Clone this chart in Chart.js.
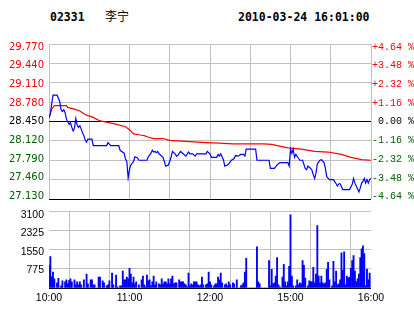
<!DOCTYPE html>
<html>
<head>
<meta charset="utf-8">
<script src="https://cdn.jsdelivr.net/npm/chart.js@4.4.0/dist/chart.umd.min.js"></script>
<style>
html, body { margin: 0; padding: 0; background: #fff; }
body { width: 414px; height: 314px; position: relative; overflow: hidden; }
.hd { position: absolute; top: 9px; font: bold 11.5px "DejaVu Sans Mono", monospace; line-height: 16px; color: #000; white-space: pre; }
#code { left: 50px; }
#name { left: 105px; top: 7px; font: 12px "Noto Sans CJK SC", sans-serif; }
#time { left: 238px; }
#priceBox { position: absolute; left: 0; top: 30px; }
#volBox { position: absolute; left: 0; top: 200px; }
</style>
</head>
<body>
<div class="hd" id="code">02331</div>
<div class="hd" id="name">李宁</div>
<div class="hd" id="time">2010-03-24 16:01:00</div>
<div id="priceBox"><canvas id="priceChart" width="414" height="180"></canvas></div>
<div id="volBox"><canvas id="volChart" width="414" height="114"></canvas></div>
<script>
// datos del grafico (minutos desde las 10:00, sesion de 240 min)
const prevClose = 28.45;
const priceTicks = [27.13, 27.46, 27.79, 28.12, 28.45, 28.78, 29.11, 29.44, 29.77];
const volTicks = [0, 775, 1550, 2325, 3100];
const gridMinutes = [0, 30, 60, 90, 120, 150, 180, 210, 240];
const timeLabels = ['10:00', '', '11:00', '', '12:00', '', '15:00', '', '16:00'];

const priceMinutes = [0,1,2,3,6,8,9,10,11,12,13,15,16,17,18,19,20,21,22,23,24,25,26,27,28,29,32,33,43,44,46,52,53,56,57,58,59,60,61,63,64,66,67,73,74,76,77,78,79,80,81,82,85,87,89,91,92,94,95,96,98,100,102,104,105,107,109,110,117,118,120,121,125,126,127,128,130,131,133,134,136,138,139,141,143,145,146,147,154,155,164,165,168,170,172,178,179,180,181,182,183,184,186,187,189,191,192,193,195,196,197,198,199,200,202,203,205,206,207,209,212,214,215,216,217,218,219,224,226,227,228,229,230,231,232,233,234,235,236,237,238,239,240];
const prices = [28.52,28.58,28.75,28.90,28.90,28.79,28.65,28.62,28.65,28.60,28.49,28.40,28.43,28.35,28.29,28.34,28.50,28.39,28.35,28.38,28.32,28.26,28.21,28.13,28.10,28.15,28.15,28.04,28.04,28.09,28.04,28.04,27.96,27.91,27.81,27.77,27.49,27.63,27.71,27.77,27.85,27.83,27.79,27.79,27.85,27.91,27.96,27.93,27.94,27.92,27.94,27.90,27.84,27.69,27.71,27.84,27.94,27.90,27.86,27.87,27.94,27.90,27.86,27.93,27.90,27.90,27.86,27.90,27.90,27.94,27.90,27.84,27.84,27.89,27.86,27.90,27.80,27.69,27.71,27.73,27.79,27.82,27.87,27.86,27.89,27.89,27.86,27.98,27.98,27.79,27.79,27.65,27.65,27.71,27.75,27.75,27.69,27.98,27.91,27.98,27.84,27.89,27.82,27.79,27.79,27.65,27.63,27.69,27.65,27.62,27.54,27.48,27.57,27.73,27.79,27.80,27.75,27.65,27.51,27.46,27.46,27.39,27.35,27.39,27.39,27.34,27.29,27.29,27.38,27.48,27.40,27.35,27.30,27.25,27.32,27.40,27.43,27.48,27.40,27.46,27.40,27.46,27.48];

const avgMinutes = [0,2,4,13,14,19,23,27,29,33,38,43,49,57,60,63,68,71,73,78,85,90,102,117,127,137,160,166,178,188,198,208,218,225,233,240];
const avgPrices = [28.51,28.66,28.72,28.72,28.69,28.66,28.63,28.57,28.55,28.52,28.46,28.44,28.41,28.36,28.31,28.24,28.22,28.21,28.19,28.16,28.16,28.13,28.11,28.09,28.08,28.07,28.07,28.06,28.00,27.98,27.94,27.93,27.89,27.84,27.80,27.79];

const volumes = [
  916,1268,458,641,366,0,209,392,0,92,
  288,0,248,327,170,301,366,248,0,327,
  131,248,131,248,131,0,327,0,562,170,
  0,327,327,131,131,0,0,445,445,0,
  288,209,0,92,131,288,0,602,131,0,
  523,52,0,92,92,680,327,327,445,366,
  798,562,209,445,170,248,0,131,0,327,
  484,131,52,523,288,327,92,248,484,131,
  248,0,170,131,366,170,248,248,170,366,
  170,366,484,170,209,209,0,327,248,248,
  248,170,131,52,602,92,170,131,248,248,
  248,131,92,131,445,131,0,131,170,641,
  248,131,0,92,170,170,445,327,602,209,
  0,131,170,92,248,131,0,209,170,0,
  327,0,0,92,131,209,641,1203,0,0,
  0,0,0,0,0,1661,248,170,0,0,
  0,0,0,0,1112,92,759,170,209,484,
  1230,131,52,0,445,955,248,92,248,876,
  2956,484,92,0,92,327,131,209,170,1112,
  916,405,0,92,288,248,248,837,209,562,
  2524,484,209,484,209,170,209,759,1033,327,
  0,92,1073,248,680,131,170,327,1426,719,
  1465,131,484,405,445,798,1112,1308,680,248,
  366,562,1230,1583,1700,1387,92,759,327,602,
  0
];

const RED = '#ff0000';
const GREEN = '#006000';
const GRID = '#c0c0c0';

function near(a, b) { return Math.abs(a - b) < 1e-6; }
function tickColor(ctx) {
    const v = ctx.tick.value;
    if (near(v, prevClose)) return '#000';
    return v > prevClose ? RED : GREEN;
}
function pctLabel(v) {
    const p = (v - prevClose) / prevClose * 100;
    if (Math.abs(p) < 0.005) return ' 0.00 %';
    return (p > 0 ? '+' : '-') + Math.abs(p).toFixed(2) + ' %';
}

// panel de precios
new Chart(document.getElementById('priceChart'), {
    type: 'line',
    data: {
        datasets: [
            {
                data: priceMinutes.map((m, i) => ({ x: m, y: prices[i] })),
                borderColor: '#0000ff',
                borderWidth: 1.2,
                pointRadius: 0,
                tension: 0
            },
            {
                data: avgMinutes.map((m, i) => ({ x: m, y: avgPrices[i] })),
                borderColor: RED,
                borderWidth: 1.2,
                pointRadius: 0,
                tension: 0
            }
        ]
    },
    options: {
        responsive: false,
        animation: false,
        events: [],
        layout: { padding: { top: 14, bottom: 7, left: 0, right: 0 } },
        plugins: { legend: { display: false }, tooltip: { enabled: false } },
        scales: {
            x: {
                type: 'linear', min: 0, max: 240,
                afterBuildTicks: s => { s.ticks = gridMinutes.map(v => ({ value: v })); },
                afterFit: s => { s.height = 0; },
                ticks: { display: false },
                grid: { color: GRID, drawTicks: false },
                border: { display: false }
            },
            y: {
                min: 27.13, max: 29.77,
                afterBuildTicks: s => { s.ticks = priceTicks.map(v => ({ value: v })); },
                afterFit: s => { s.width = 0; },
                ticks: { display: false },
                grid: {
                    drawTicks: false,
                    color: ctx => (near(ctx.tick.value, prevClose) || near(ctx.tick.value, 27.13)) ? '#000' : GRID
                },
                border: { display: false }
            },
            // ejes solo de etiquetas (las etiquetas van un poco desplazadas de la rejilla)
            yl: {
                position: 'left',
                min: 27.087, max: 29.822,
                afterBuildTicks: s => { s.ticks = priceTicks.map(v => ({ value: v })); },
                afterFit: s => { s.width = 49; },
                grid: { display: false, drawTicks: false },
                border: { display: false },
                ticks: {
                    padding: 5,
                    font: { family: 'DejaVu Sans', size: 10 },
                    color: tickColor,
                    callback: v => v.toFixed(3)
                }
            },
            yr: {
                position: 'right',
                min: 27.087, max: 29.822,
                afterBuildTicks: s => { s.ticks = priceTicks.map(v => ({ value: v })); },
                afterFit: s => { s.width = 43; },
                grid: { display: false, drawTicks: false },
                border: { display: false },
                ticks: {
                    padding: 1,
                    font: { family: 'Liberation Mono', size: 10 },
                    color: tickColor,
                    callback: v => pctLabel(v)
                }
            }
        }
    }
});

// panel de volumen
new Chart(document.getElementById('volChart'), {
    type: 'bar',
    data: {
        datasets: [{
            data: volumes.map((v, i) => ({ x: i, y: v })),
            backgroundColor: '#0000ff',
            barThickness: 1.2
        }]
    },
    options: {
        responsive: false,
        animation: false,
        events: [],
        layout: { padding: { top: 9, right: 43, left: 0, bottom: 0 } },
        plugins: { legend: { display: false }, tooltip: { enabled: false } },
        scales: {
            x: {
                type: 'linear', min: 0, max: 240, offset: false,
                afterBuildTicks: s => { s.ticks = gridMinutes.map(v => ({ value: v })); },
                afterFit: s => { s.height = 26; },
                ticks: {
                    padding: 4,
                    maxRotation: 0,
                    autoSkip: false,
                    color: '#000',
                    font: { family: 'Liberation Sans', size: 10.5 },
                    callback: (v, i) => timeLabels[i]
                },
                grid: { color: GRID, drawTicks: false },
                border: { display: false }
            },
            y: {
                min: 0, max: 3100,
                afterBuildTicks: s => { s.ticks = volTicks.map(v => ({ value: v })); },
                afterFit: s => { s.width = 0; },
                ticks: { display: false },
                grid: { drawTicks: false, color: ctx => ctx.tick.value === 0 ? '#000' : GRID },
                border: { display: false }
            },
            yv: {
                position: 'left',
                min: 30, max: 3255,
                afterBuildTicks: s => { s.ticks = volTicks.filter(v => v > 0).map(v => ({ value: v })); },
                afterFit: s => { s.width = 49; },
                grid: { display: false, drawTicks: false },
                border: { display: false },
                ticks: {
                    padding: 5,
                    color: '#000',
                    font: { family: 'Liberation Sans', size: 10.5 },
                    callback: v => String(v)
                }
            }
        }
    }
});
</script>
</body>
</html>
